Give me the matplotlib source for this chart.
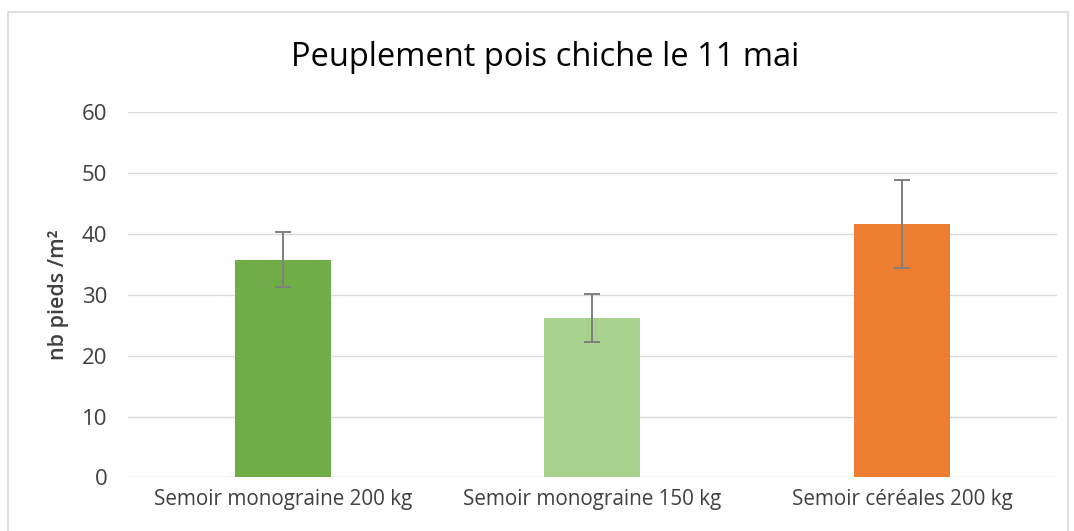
import matplotlib.pyplot as plt
import numpy as np

plt.rcParams['font.family'] = ['Open Sans', 'DejaVu Sans']

# valeurs
categories = ['Semoir monograine 200 kg', 'Semoir monograine 150 kg', 'Semoir céréales 200 kg']
peuplement = [35.7, 26.2, 41.6]
ecart = [4.5, 3.9, 7.2]
couleurs = ['#70AD47', '#A9D18E', '#ED7D31']

fig = plt.figure(figsize=(10.74, 5.31), dpi=100)
ax = fig.add_axes([0.1192, 0.1008, 0.8648, 0.6888])

x = np.arange(len(categories))
ax.bar(x, peuplement, width=0.31, color=couleurs, zorder=2)
ax.errorbar(x, peuplement, yerr=ecart, fmt='none', ecolor='#7f7f7f',
            elinewidth=1.4, capsize=6, capthick=1.4, zorder=3)

ax.set_xlim(-0.5, 2.5)
ax.set_ylim(0, 60)
ax.set_yticks(range(0, 61, 10))
ax.set_xticks(x)
ax.set_xticklabels(categories)
ax.tick_params(axis='y', length=0, labelsize=16, colors='#404040', pad=15)
ax.tick_params(axis='x', length=0, labelsize=14.9, colors='#404040', pad=8)
ax.yaxis.grid(True, color='#d9d9d9', linewidth=1, zorder=0)
for s in ax.spines.values():
    s.set_visible(False)

ax.set_ylabel('nb pieds /m²', fontsize=15.5, fontweight='semibold', color='#404040', labelpad=9)
fig.text(0.508, 0.892, 'Peuplement pois chiche le 11 mai', ha='center', va='center',
         fontsize=23.5, color='#000000')

# cadre du graphique
fig.patches.append(plt.Rectangle((8 / 1074, -0.05), 1060 / 1074, 1 - 12 / 531 + 0.05,
                                 transform=fig.transFigure, fill=False,
                                 edgecolor='#d9d9d9', linewidth=1.2))

fig.savefig('out.png', dpi=100)
